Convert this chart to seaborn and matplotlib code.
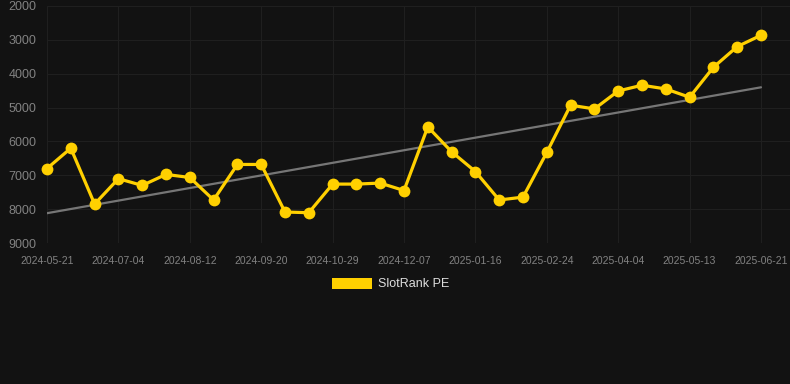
import numpy as np
import pandas as pd
import matplotlib
matplotlib.use("Agg")
import matplotlib.pyplot as plt
import seaborn as sns
from matplotlib.patches import Patch

# rank values, one per report (axis is inverted: lower is better)
RANKS = [
    6800, 6200, 7850, 7100, 7300, 6975, 7065, 7730, 6680, 6680,
    8085, 8105, 7260, 7260, 7230, 7450, 5570, 6305, 6890, 7730,
    7645, 6325, 4930, 5040, 4510, 4340, 4450, 4695, 3810, 3200,
    2865,
]
# every third point carries a date label
TICK_LABELS = [
    "2024-05-21", "2024-07-04", "2024-08-12", "2024-09-20", "2024-10-29",
    "2024-12-07", "2025-01-16", "2025-02-24", "2025-04-04", "2025-05-13",
    "2025-06-21",
]
Y_TICKS = [2000, 3000, 4000, 5000, 6000, 7000, 8000, 9000]
SERIES_NAME = "SlotRank PE"

BG = "#121212"
GRID = "#1f1f1f"
TEXT = "#828282"
GOLD = "#FFD000"

df = pd.DataFrame({"idx": np.arange(len(RANKS)), "rank": RANKS})

# linear trend over the whole series
slope, intercept = np.polyfit(df["idx"], df["rank"], 1)
df["trend"] = intercept + slope * df["idx"]

sns.set_theme(style="dark")
plt.rcParams["font.family"] = ["Liberation Sans", "DejaVu Sans"]

fig = plt.figure(figsize=(7.9, 3.84), dpi=100, facecolor=BG)
ax = fig.add_axes([47 / 790, 1 - 243 / 384, 1 - 47 / 790, (243 - 6) / 384])
ax.set_facecolor(BG)

sns.lineplot(data=df, x="idx", y="trend", ax=ax, color="#767676", linewidth=1.6, zorder=2)
sns.lineplot(
    data=df, x="idx", y="rank", ax=ax, color=GOLD, linewidth=2.3,
    marker="o", markersize=8.5, markeredgewidth=0, zorder=3, clip_on=False,
)

ax.set_ylim(9000, 2000)
ax.set_xlim(0, len(RANKS) - 1 + 29 / 23.8)
ax.set_yticks(Y_TICKS)
ax.set_yticklabels([str(v) for v in Y_TICKS], fontsize=9, color=TEXT)
ax.set_xticks(np.arange(0, len(RANKS), 3))
ax.set_xticklabels(TICK_LABELS, fontsize=7.5, color=TEXT)
ax.tick_params(axis="y", length=0, pad=7.5)
ax.tick_params(axis="x", length=6, color=GRID, pad=3)
ax.grid(True, color=GRID, linewidth=0.8)
for s in ax.spines.values():
    s.set_visible(False)
ax.set_xlabel("")
ax.set_ylabel("")

handles = [Patch(facecolor=GOLD, edgecolor="none")]
fig.legend(
    handles, [SERIES_NAME], loc="center", bbox_to_anchor=(391 / 790, 1 - 284 / 384),
    frameon=False, fontsize=9, labelcolor="#dddddd",
    handlelength=3.2, handleheight=1.0, handletextpad=0.5,
)

fig.savefig("out.png", dpi=100, facecolor=BG)
